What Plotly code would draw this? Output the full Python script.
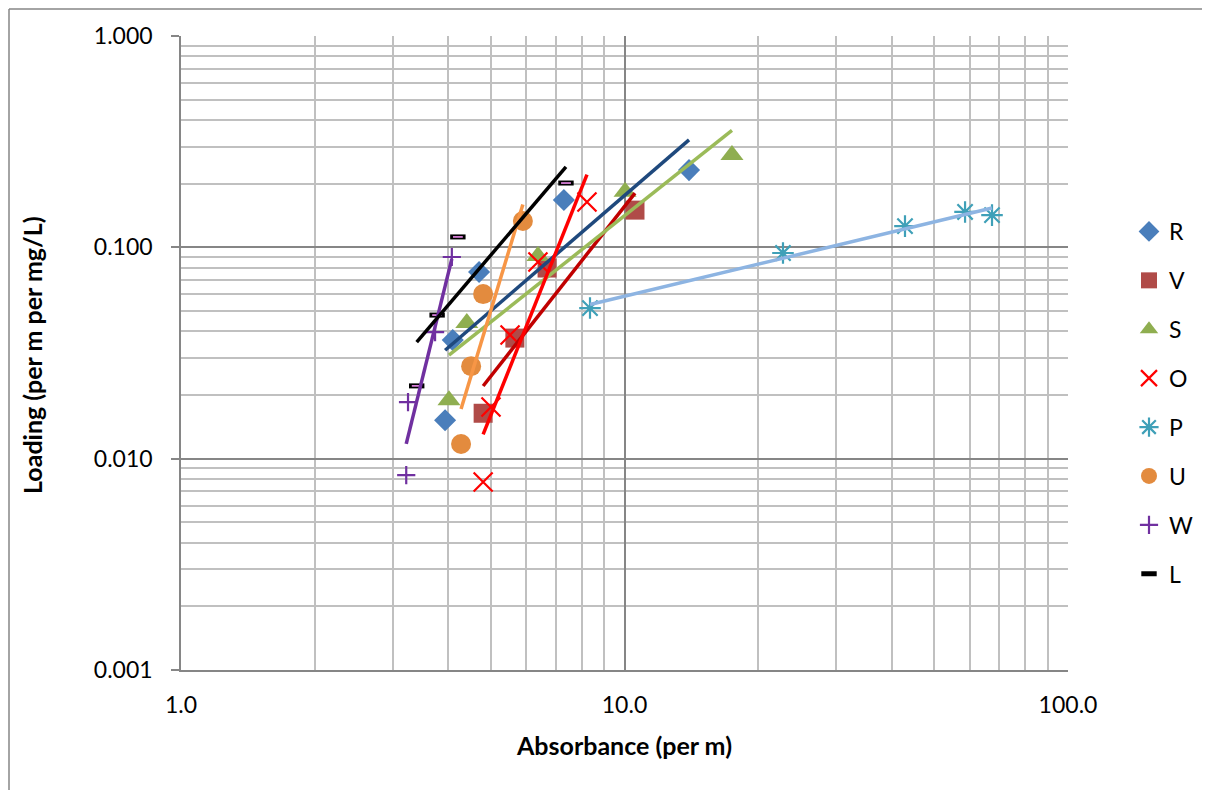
import numpy as np
import plotly.graph_objects as go

# ---- data ----
series_names = ["R", "V", "S", "O", "P", "U", "W", "L"]

R_x = [3.94, 4.10, 4.70, 7.30, 13.98]
R_y = [0.0152, 0.0364, 0.0764, 0.1675, 0.232]

V_x = [4.80, 5.66, 6.69, 10.56]
V_y = [0.0164, 0.0372, 0.0798, 0.150]

S_x = [4.02, 4.41, 6.38, 10.03, 17.47]
S_y = [0.0189, 0.0438, 0.091, 0.183, 0.2735]

O_x = [4.80, 5.00, 5.52, 6.38, 8.23]
O_y = [0.00775, 0.01755, 0.0385, 0.0852, 0.1638]

P_x = [8.36, 22.77, 42.9, 58.6, 67.4]
P_y = [0.0516, 0.094, 0.126, 0.147, 0.142]

U_x = [4.28, 4.51, 4.80, 5.90]
U_y = [0.01173, 0.0274, 0.0601, 0.1332]

W_x = [3.22, 3.25, 3.74, 4.08]
W_y = [0.00836, 0.01853, 0.0397, 0.090]

L_x = [3.40, 3.78, 4.21, 7.38]
L_y = [0.0221, 0.0478, 0.112, 0.2015]

x_tickvals = [1, 10, 100]
y_tickvals = [0.001, 0.01, 0.1, 1]

# ---- styles ----
FONT = "Lato"
TICK_SIZE = 23
TITLE_SIZE = 25
data = {
    "R": (R_x, R_y), "V": (V_x, V_y), "S": (S_x, S_y), "O": (O_x, O_y),
    "P": (P_x, P_y), "U": (U_x, U_y), "W": (W_x, W_y), "L": (L_x, L_y),
}
marker_style = {
    "R": dict(symbol="diamond", size=17, color="#4A7EBB", line=dict(width=0)),
    "V": dict(symbol="square", size=19, color="#B04B48", line=dict(width=0)),
    "S": dict(symbol="triangle-up", size=20, color="#8FAE50", line=dict(width=0)),
    "O": dict(symbol="x-thin-open", size=19, color="#FF0000", line=dict(width=2.2, color="#FF0000")),
    "P": dict(symbol="asterisk-open", size=18, color="#3FA0B8", line=dict(width=2.2, color="#3FA0B8")),
    "U": dict(symbol="circle", size=20, color="#E38B3E", line=dict(width=0)),
    "W": dict(symbol="cross-thin-open", size=13, color="#7030A0", line=dict(width=2.2, color="#7030A0")),
    "L": dict(symbol="line-ew-open", size=11, color="#000000", line=dict(width=5, color="#000000")),
}
line_color = {
    "R": "#1F497D", "V": "#C00000", "S": "#9BBB59", "O": "#FF0000",
    "P": "#8DB4E2", "U": "#F79646", "W": "#7030A0", "L": "#000000",
}

fig = go.Figure()

# markers
for name in series_names:
    xs, ys = data[name]
    fig.add_trace(go.Scatter(
        x=xs, y=ys, mode="markers", name=name, legendgroup=name,
        marker=marker_style[name], cliponaxis=False,
    ))
    if name == "L":
        fig.add_trace(go.Scatter(
            x=xs, y=ys, mode="markers", showlegend=False, legendgroup=name,
            marker=dict(symbol="line-ew-open", size=7,
                        line=dict(width=1.5, color="#E8B8B0")),
            hoverinfo="skip",
        ))

# power trendlines (least squares in log-log space)
for name in series_names:
    xs, ys = data[name]
    lx, ly = np.log10(xs), np.log10(ys)
    b, a = np.polyfit(lx, ly, 1)
    ex = np.array([min(lx), max(lx)])
    fig.add_trace(go.Scatter(
        x=10 ** ex, y=10 ** (a + b * ex), mode="lines", showlegend=False,
        legendgroup=name, line=dict(color=line_color[name], width=3.5),
        hoverinfo="skip",
    ))

x_minor = [m * 10 ** k for k in range(0, 2) for m in range(2, 10)]
y_minor = [m * 10 ** k for k in range(-3, 0) for m in range(2, 10)]

axis_common = dict(
    type="log", showline=True, linecolor="#868686", linewidth=1.5,
    showgrid=True, gridcolor="#868686", gridwidth=1.5, zeroline=False,
    tickfont=dict(family=FONT, size=TICK_SIZE, color="#000000"),
)

fig.update_xaxes(
    range=[0, 2], tickvals=x_tickvals, tickformat=".1f", ticks="",
    ticklabelstandoff=14,
    minor=dict(tickmode="array", tickvals=x_minor, showgrid=True,
               gridcolor="#C0C0C0", gridwidth=1.5, ticks=""),
    **axis_common,
)
fig.update_yaxes(
    range=[-3, 0], tickvals=y_tickvals, tickformat=".3f", ticks="outside",
    ticklen=8, tickcolor="#868686", tickwidth=1.5, ticklabelstandoff=14,
    minor=dict(tickmode="array", tickvals=y_minor, showgrid=True,
               gridcolor="#C0C0C0", gridwidth=1.5, ticks=""),
    **axis_common,
)

# page has an 8px body margin; target positions below are page pixels
L_PX, R_PX, T_PX, B_PX = 181, 1068, 36, 670
OFF = 8
W, H = 1202, 782
pw, ph = R_PX - L_PX, B_PX - T_PX

def px_x(p):
    return (p - L_PX) / pw

def px_y(p):
    return (B_PX - p) / ph

fig.update_layout(
    width=W, height=H,
    margin=dict(l=L_PX - OFF, r=W - (R_PX - OFF), t=T_PX - OFF,
                b=H - (B_PX - OFF), autoexpand=False),
    paper_bgcolor="white", plot_bgcolor="white",
    font=dict(family=FONT, size=TICK_SIZE, color="#000000"),
    legend=dict(
        x=px_x(1129), y=px_y(210), xanchor="left", yanchor="top",
        traceorder="grouped", tracegroupgap=16,
        font=dict(family=FONT, size=TICK_SIZE, color="#000000"),
        itemwidth=30, bgcolor="rgba(0,0,0,0)",
    ),
    annotations=[
        dict(text="<b>Absorbance (per m)</b>", xref="paper", yref="paper",
             x=px_x(624), y=px_y(745), xanchor="center", yanchor="middle",
             showarrow=False, font=dict(family=FONT, size=TITLE_SIZE)),
        dict(text="<b>Loading (per m per mg/L)</b>", xref="paper", yref="paper",
             x=px_x(32), y=px_y(355), xanchor="center", yanchor="middle",
             textangle=-90, showarrow=False, font=dict(family=FONT, size=TITLE_SIZE)),
    ],
    shapes=[
        dict(type="line", xref="paper", yref="paper",
             x0=px_x(9), x1=px_x(1215), y0=px_y(9), y1=px_y(9),
             line=dict(color="#868686", width=1.5)),
        dict(type="line", xref="paper", yref="paper",
             x0=px_x(9), x1=px_x(9), y0=px_y(9), y1=px_y(795),
             line=dict(color="#868686", width=1.5)),
    ],
)

fig.write_html("out.html")
